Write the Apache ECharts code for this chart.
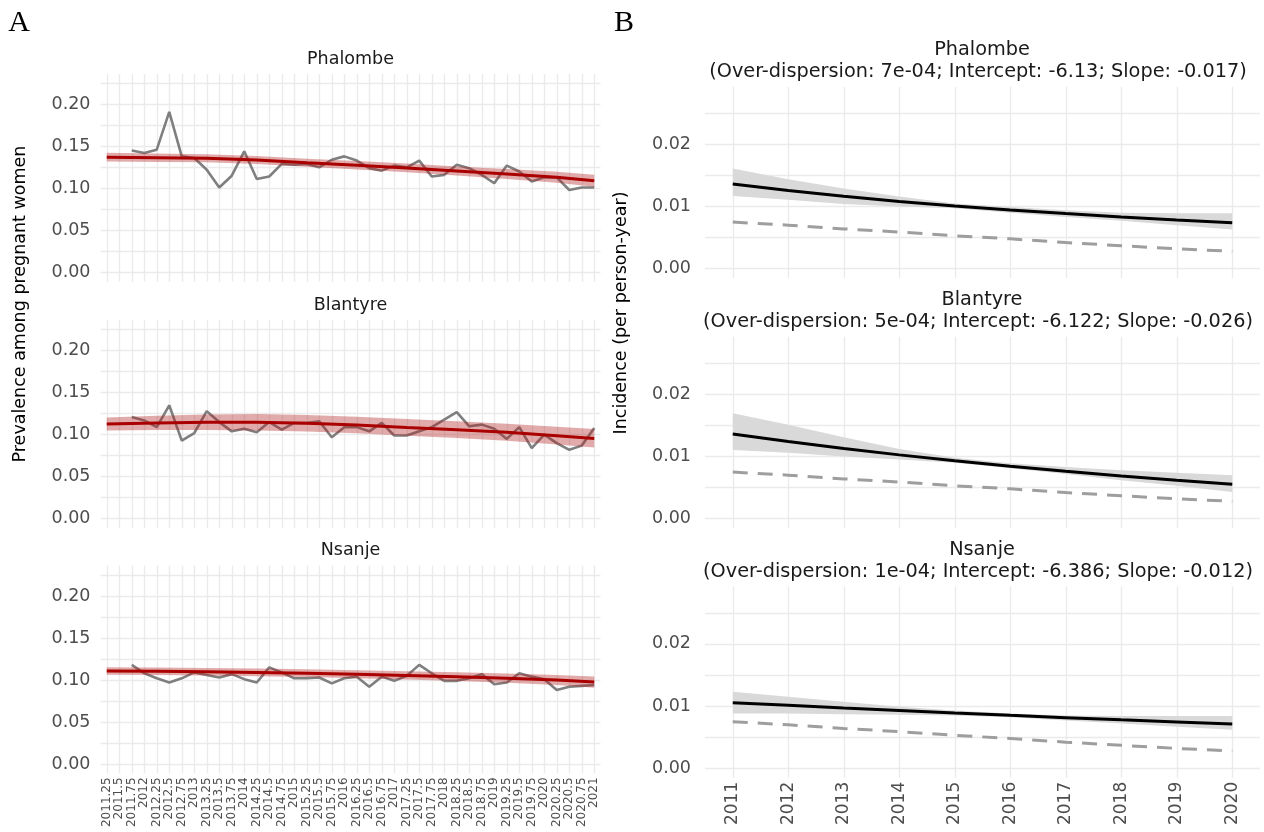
<!DOCTYPE html>
<html lang="en">
<head>
<meta charset="UTF-8">
<title>Prevalence and incidence</title>
<script src="https://cdn.jsdelivr.net/npm/echarts@6/dist/echarts.min.js"></script>
<style>html,body{margin:0;padding:0;background:#fff}</style>
</head>
<body>
<div id="chart" style="width:1264px;height:832px;"></div>
<script>
// ---- panel A: prevalence among pregnant women, by quarter ----
var quarters = ['2011.25','2011.5','2011.75','2012','2012.25','2012.5','2012.75','2013',
  '2013.25','2013.5','2013.75','2014','2014.25','2014.5','2014.75','2015',
  '2015.25','2015.5','2015.75','2016','2016.25','2016.5','2016.75','2017',
  '2017.25','2017.5','2017.75','2018','2018.25','2018.5','2018.75','2019',
  '2019.25','2019.5','2019.75','2020','2020.25','2020.5','2020.75','2021'];

var phalombeObs = [null,null,0.145,0.142,0.146,0.191,0.138,0.136,0.122,0.101,0.115,0.144,0.111,0.114,0.129,0.128,0.129,0.125,0.134,0.138,
  0.133,0.124,0.121,0.127,0.125,0.133,0.114,0.116,0.128,0.124,0.116,0.106,0.127,0.120,0.108,0.113,0.113,0.098,0.101,0.101];
var blantyreObs = [null,null,0.121,0.117,0.109,0.135,0.093,0.102,0.128,0.115,0.104,0.107,0.103,0.115,0.106,0.114,0.114,0.116,0.097,0.109,
  0.109,0.104,0.114,0.099,0.099,0.104,0.109,0.118,0.127,0.110,0.112,0.107,0.095,0.109,0.084,0.100,0.090,0.082,0.087,0.108];
var nsanjeObs = [null,null,0.118,0.108,0.102,0.097,0.102,0.109,0.106,0.103,0.107,0.101,0.097,0.115,0.109,0.102,0.102,0.103,0.096,0.102,
  0.104,0.092,0.104,0.099,0.105,0.118,0.108,0.099,0.099,0.102,0.107,0.095,0.097,0.108,0.104,0.101,0.088,0.092,0.093,0.094];

// smooth fit, read at one quarter per year
var fitQuarters = ['2011.25','2012.25','2013.25','2014.25','2015.25','2016.25','2017.25','2018.25','2019.25','2020.25','2021'];
var phalombeFit = [0.1370,0.1364,0.1357,0.1337,0.1305,0.1274,0.1242,0.1206,0.1170,0.1131,0.1090];
var phalombeHi  = [0.1422,0.1414,0.1405,0.1385,0.1353,0.1324,0.1294,0.1261,0.1230,0.1197,0.1162];
var phalombeLo  = [0.1318,0.1314,0.1309,0.1289,0.1257,0.1224,0.1190,0.1151,0.1110,0.1065,0.1018];
var blantyreFit = [0.1127,0.1139,0.1147,0.1147,0.1135,0.1115,0.1087,0.1060,0.1028,0.0988,0.0956];
var blantyreHi  = [0.1204,0.1225,0.1240,0.1245,0.1235,0.1215,0.1188,0.1160,0.1130,0.1095,0.1068];
var blantyreLo  = [0.1050,0.1055,0.1055,0.1050,0.1037,0.1017,0.0988,0.0960,0.0928,0.0884,0.0848];
var nsanjeFit   = [0.1107,0.1103,0.1097,0.1090,0.1080,0.1068,0.1055,0.1040,0.1022,0.1000,0.0975];
var nsanjeHi    = [0.1152,0.1148,0.1142,0.1136,0.1127,0.1116,0.1104,0.1091,0.1077,0.1060,0.1043];
var nsanjeLo    = [0.1062,0.1060,0.1054,0.1046,0.1035,0.1021,0.1006,0.0988,0.0967,0.0940,0.0907];

// ---- panel B: incidence per person-year ----
var years = ['2011','2012','2013','2014','2015','2016','2017','2018','2019','2020'];
var phalombeInc   = [0.01362,0.01257,0.01164,0.01082,0.01009,0.00944,0.00886,0.00833,0.00783,0.00740];
var phalombeIncHi = [0.0161,0.0144,0.0129,0.0116,0.0105,0.0099,0.0094,0.0090,0.0089,0.0089];
var phalombeIncLo = [0.0117,0.0111,0.0104,0.0100,0.0097,0.0090,0.0083,0.0077,0.0070,0.0063];
var blantyreInc   = [0.01362,0.01242,0.01130,0.01026,0.00930,0.00842,0.00761,0.00686,0.00618,0.00553];
var blantyreIncHi = [0.01695,0.0151,0.0131,0.0112,0.0098,0.0089,0.0083,0.0078,0.0074,0.0070];
var blantyreIncLo = [0.01105,0.0106,0.0100,0.0095,0.0090,0.0081,0.0072,0.0062,0.0053,0.0043];
var nsanjeInc     = [0.01055,0.01012,0.00970,0.00929,0.00889,0.00851,0.00814,0.00779,0.00745,0.00712];
var nsanjeIncHi   = [0.0123,0.0115,0.0107,0.0099,0.0093,0.0088,0.0085,0.0084,0.0084,0.0084];
var nsanjeIncLo   = [0.0088,0.0088,0.0087,0.0086,0.0085,0.0082,0.0077,0.0072,0.0067,0.0062];
var referenceInc  = [0.0075,0.0070,0.0064,0.0059,0.0053,0.0048,0.0042,0.0037,0.0032,0.0028];

var subtitles = {
  Phalombe: '(Over-dispersion: 7e-04; Intercept: -6.13; Slope: -0.017)',
  Blantyre: '(Over-dispersion: 5e-04; Intercept: -6.122; Slope: -0.026)',
  Nsanje: '(Over-dispersion: 1e-04; Intercept: -6.386; Slope: -0.012)'
};

var FONT = 'DejaVu Sans';
var GRIDLINE = { color: '#ebebeb', width: 1.4 };

var option = { animation: false, grid: [], xAxis: [], yAxis: [], series: [], graphic: [] };

function yFormatter(step) {
  return function (v) {
    var k = v / step;
    return Math.abs(k - Math.round(k)) < 1e-6 ? v.toFixed(2) : '';
  };
}

// one main grid (horizontal lines + data) and one grid only for the vertical lines
function addPanel(p) {
  var step = p.width / p.cats.length;
  option.grid.push({ left: p.left, width: p.width, top: p.y0 - p.yMax * p.pxPerUnit, height: p.yMax * p.pxPerUnit });
  var g = option.grid.length - 1;
  option.xAxis.push({ gridIndex: g, type: 'category', data: p.cats, boundaryGap: true,
    axisLine: { show: false }, axisTick: { show: false }, axisLabel: { show: false }, splitLine: { show: false } });
  option.yAxis.push({ gridIndex: g, type: 'value', min: 0, max: p.yMax, interval: p.yStep,
    axisLine: { show: false }, axisTick: { show: false },
    splitLine: { show: true, lineStyle: GRIDLINE },
    axisLabel: { formatter: yFormatter(p.labelStep), fontFamily: FONT, fontSize: 17.5, color: '#4d4d4d', margin: p.labelMargin } });

  option.grid.push({ left: p.left + step / 2, width: p.width - step, top: p.vTop, height: p.vBottom - p.vTop });
  var v = option.grid.length - 1;
  option.xAxis.push({ gridIndex: v, type: 'category', data: p.cats, boundaryGap: false,
    axisLine: { show: false }, axisTick: { show: false },
    splitLine: { show: true, interval: 0, lineStyle: GRIDLINE },
    axisLabel: { show: p.showX, interval: 0, rotate: 90, fontFamily: FONT, fontSize: p.xFont, color: '#4d4d4d', margin: 4 } });
  option.yAxis.push({ gridIndex: v, type: 'value', show: false, min: 0, max: 1 });
  return g;
}

function ribbon(g, cats, xs, lo, hi, color) {
  return {
    type: 'custom', xAxisIndex: g, yAxisIndex: g, silent: true, clip: false, z: 3,
    data: [[0, 0]],
    renderItem: function (params, api) {
      var pts = [];
      for (var i = 0; i < xs.length; i++) pts.push(api.coord([cats.indexOf(xs[i]), hi[i]]));
      for (var j = xs.length - 1; j >= 0; j--) pts.push(api.coord([cats.indexOf(xs[j]), lo[j]]));
      return { type: 'polygon', shape: { points: pts }, style: { fill: color } };
    }
  };
}

function addText(x, y, text, size, family, color, rotation) {
  option.graphic.push({
    type: 'text', x: x, y: y, rotation: rotation || 0, silent: true,
    style: { text: text, fontSize: size, fontFamily: family, fill: color,
      align: 'center', textAlign: 'center', verticalAlign: 'middle', textVerticalAlign: 'middle' }
  });
}

var leftPanels = [
  { name: 'Phalombe', obs: phalombeObs, fit: phalombeFit, lo: phalombeLo, hi: phalombeHi, y0: 272.3 },
  { name: 'Blantyre', obs: blantyreObs, fit: blantyreFit, lo: blantyreLo, hi: blantyreHi, y0: 518.7 },
  { name: 'Nsanje', obs: nsanjeObs, fit: nsanjeFit, lo: nsanjeLo, hi: nsanjeHi, y0: 764 }
];
var rightPanels = [
  { name: 'Phalombe', inc: phalombeInc, lo: phalombeIncLo, hi: phalombeIncHi, y0: 268.7 },
  { name: 'Blantyre', inc: blantyreInc, lo: blantyreIncLo, hi: blantyreIncHi, y0: 518.7 },
  { name: 'Nsanje', inc: nsanjeInc, lo: nsanjeIncLo, hi: nsanjeIncHi, y0: 768.3 }
];

leftPanels.forEach(function (d, i) {
  var g = addPanel({ cats: quarters, left: 100.5, width: 500, y0: d.y0, pxPerUnit: 840,
    yMax: 0.225, yStep: 0.025, labelStep: 0.05, labelMargin: 10,
    vTop: d.y0 - 198.3, vBottom: d.y0 + 9.4, showX: i === 2, xFont: 12 });
  option.series.push({ type: 'line', xAxisIndex: g, yAxisIndex: g, data: d.obs, symbol: 'none', z: 2,
    lineStyle: { color: '#7f7f7f', width: 2.6 } });
  option.series.push(ribbon(g, quarters, fitQuarters, d.lo, d.hi, 'rgba(178,34,34,0.38)'));
  option.series.push({ type: 'line', xAxisIndex: g, yAxisIndex: g, symbol: 'none', z: 4,
    data: fitQuarters.map(function (q, k) { return [q, d.fit[k]]; }),
    lineStyle: { color: '#aa0000', width: 3 } });
  addText(350.5, d.y0 - 213.3, d.name, 17.5, FONT, '#1a1a1a');
});

rightPanels.forEach(function (d, i) {
  var g = addPanel({ cats: years, left: 705, width: 555, y0: d.y0, pxPerUnit: 6220,
    yMax: 0.025, yStep: 0.005, labelStep: 0.01, labelMargin: 14,
    vTop: d.y0 - 182, vBottom: d.y0 + 9.5, showX: i === 2, xFont: 17 });
  option.series.push(ribbon(g, years, years, d.lo, d.hi, '#d9d9d9'));
  option.series.push({ type: 'line', xAxisIndex: g, yAxisIndex: g, data: d.inc, symbol: 'none', z: 4,
    lineStyle: { color: '#000000', width: 3 } });
  option.series.push({ type: 'line', xAxisIndex: g, yAxisIndex: g, data: referenceInc, symbol: 'none', z: 4,
    lineStyle: { color: '#9e9e9e', width: 3, type: [15, 10] } });
  addText(982, d.y0 - 218.7, d.name, 19.3, FONT, '#1a1a1a');
  addText(978, d.y0 - 196.7, subtitles[d.name], 19.3, FONT, '#1a1a1a');
});

addText(19, 23, 'A', 30, 'Liberation Serif', '#000');
addText(624, 23, 'B', 30, 'Liberation Serif', '#000');
addText(20, 304, 'Prevalence among pregnant women', 17.5, FONT, '#000', Math.PI / 2);
addText(621, 313, 'Incidence (per person-year)', 17.5, FONT, '#000', Math.PI / 2);

var chart = echarts.init(document.getElementById('chart'));
chart.setOption(option);
</script>
</body>
</html>
